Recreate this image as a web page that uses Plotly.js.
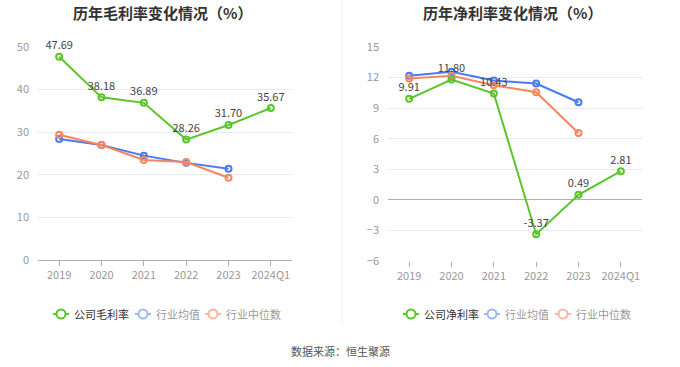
<!DOCTYPE html>
<html><head><meta charset="utf-8">
<script src="https://cdn.plot.ly/plotly-3.0.1.min.js"></script>
<style>html,body{margin:0;padding:0;background:#fff}#c{width:680px;height:367px}</style>
</head><body><div id="c"></div>
<script>
const categories = ['2019','2020','2021','2022','2023','2024Q1'];
const grossCompany = [47.69, 38.18, 36.89, 28.26, 31.70, 35.67];
const grossIndustryAvg = [28.4, 27.0, 24.5, 22.8, 21.4];
const grossIndustryMedian = [29.4, 27.0, 23.5, 23.0, 19.3];
const netCompany = [9.91, 11.80, 10.43, -3.37, 0.49, 2.81];
const netIndustryAvg = [12.17, 12.57, 11.71, 11.42, 9.58];
const netIndustryMedian = [11.91, 12.17, 11.25, 10.56, 6.56];
const leftTitle = '历年毛利率变化情况（%）';
const rightTitle = '历年净利率变化情况（%）';
const leftLegend = ['公司毛利率', '行业均值', '行业中位数'];
const rightLegend = ['公司净利率', '行业均值', '行业中位数'];
const source = '数据来源：恒生聚源';

const G = '#5ac42a', B = '#4a7bec', O = '#f5875e';
const GL = '#5ac42a', BL = '#9ab8f5', OL = '#f8b8a0';
const FONT = '"Noto Sans CJK SC", "Noto Sans", sans-serif';

function tr(y, name, color, xa, ya, labels) {
  const t = {
    x: categories.slice(0, y.length), y: y, name: name, type: 'scatter',
    mode: labels ? 'lines+markers+text' : 'lines+markers',
    xaxis: xa, yaxis: ya, showlegend: false,
    line: {color: color, width: 2},
    marker: {symbol: 'circle-open', size: 6, color: color, line: {width: 2, color: color}},
    cliponaxis: false, hoverinfo: 'skip'
  };
  if (labels) {
    t.text = y.map(v => v.toFixed(2));
    t.textposition = 'top center';
    t.textfont = {size: 11, color: '#444', family: FONT};
  }
  return t;
}

const data = [
  tr(grossIndustryAvg, leftLegend[1], B, 'x', 'y', false),
  tr(grossIndustryMedian, leftLegend[2], O, 'x', 'y', false),
  tr(grossCompany, leftLegend[0], G, 'x', 'y', true),
  tr(netIndustryAvg, rightLegend[1], B, 'x2', 'y2', false),
  tr(netIndustryMedian, rightLegend[2], O, 'x2', 'y2', false),
  tr(netCompany, rightLegend[0], G, 'x2', 'y2', true)
];

const xaxisBase = {
  type: 'category', showgrid: false, showline: true, linecolor: '#b0b0b0', linewidth: 1,
  ticks: 'outside', ticklen: 5, tickcolor: '#b0b0b0', tickfont: {size: 11, color: '#999', family: FONT},
  fixedrange: true, range: [-0.5, 5.5]
};
const yaxisBase = {
  showgrid: true, gridcolor: '#e6eaf3', gridwidth: 1, zeroline: false, showline: false,
  tickfont: {size: 11, color: '#999', family: FONT}, ticks: '', fixedrange: true
};

const annotations = [
  {text: '<b>' + leftTitle + '</b>', x: 162 / 680, y: 1 - 12 / 367, xref: 'paper', yref: 'paper', showarrow: false, xanchor: 'center', yanchor: 'middle', font: {size: 15, color: '#333', family: FONT}},
  {text: '<b>' + rightTitle + '</b>', x: 512 / 680, y: 1 - 12 / 367, xref: 'paper', yref: 'paper', showarrow: false, xanchor: 'center', yanchor: 'middle', font: {size: 15, color: '#333', family: FONT}},
  {text: source, x: 340 / 680, y: 1 - 351 / 367, xref: 'paper', yref: 'paper', showarrow: false, xanchor: 'center', yanchor: 'middle', font: {size: 11, color: '#555', family: FONT}}
];
const shapes = [
  {type: 'line', xref: 'paper', yref: 'paper', x0: 342 / 680, x1: 342 / 680, y0: 1 - 325 / 367, y1: 1, line: {color: '#f0f0f0', width: 1}}
];

// custom legends (symbol centres in px)
const LY = 314;
function legendItem(cx, color, label, textColor) {
  const py = 1 - LY / 367;
  shapes.push({type: 'line', xref: 'paper', yref: 'paper', x0: (cx - 8) / 680, x1: (cx + 8) / 680, y0: py, y1: py, line: {color: color, width: 2}});
  shapes.push({type: 'circle', xref: 'paper', yref: 'paper', x0: (cx - 4.5) / 680, x1: (cx + 4.5) / 680, y0: py - 4.5 / 367, y1: py + 4.5 / 367, fillcolor: '#fff', line: {color: color, width: 2}});
  annotations.push({text: label, x: (cx + 11) / 680, y: py, xref: 'paper', yref: 'paper', showarrow: false, xanchor: 'left', yanchor: 'middle', font: {size: 11, color: textColor, family: FONT}});
}
legendItem(61, GL, leftLegend[0], '#333');
legendItem(143, BL, leftLegend[1], '#999');
legendItem(213, OL, leftLegend[2], '#999');
legendItem(411, GL, rightLegend[0], '#333');
legendItem(492, BL, rightLegend[1], '#999');
legendItem(563, OL, rightLegend[2], '#999');

const layout = {
  width: 680, height: 367, margin: {l: 0, r: 0, t: 0, b: 0}, showlegend: false,
  paper_bgcolor: '#fff', plot_bgcolor: '#fff', font: {family: FONT},
  xaxis: Object.assign({}, xaxisBase, {domain: [38 / 680, 292 / 680], anchor: 'y'}),
  yaxis: Object.assign({}, yaxisBase, {domain: [107 / 367, 320 / 367], range: [0, 50], tickvals: [0, 10, 20, 30, 40, 50], anchor: 'x', ticklabelstandoff: 8}),
  xaxis2: Object.assign({}, xaxisBase, {domain: [388 / 680, 642 / 680], anchor: 'y2', showline: false}),
  yaxis2: Object.assign({}, yaxisBase, {domain: [106 / 367, 320 / 367], range: [-6, 15], tickvals: [-6, -3, 0, 3, 6, 9, 12, 15], anchor: 'x2', zeroline: true, zerolinecolor: '#b0b0b0', zerolinewidth: 1, ticklabelstandoff: 8}),
  annotations: annotations,
  shapes: shapes
};

Plotly.newPlot('c', data, layout, {displayModeBar: false, staticPlot: true});
</script></body></html>
